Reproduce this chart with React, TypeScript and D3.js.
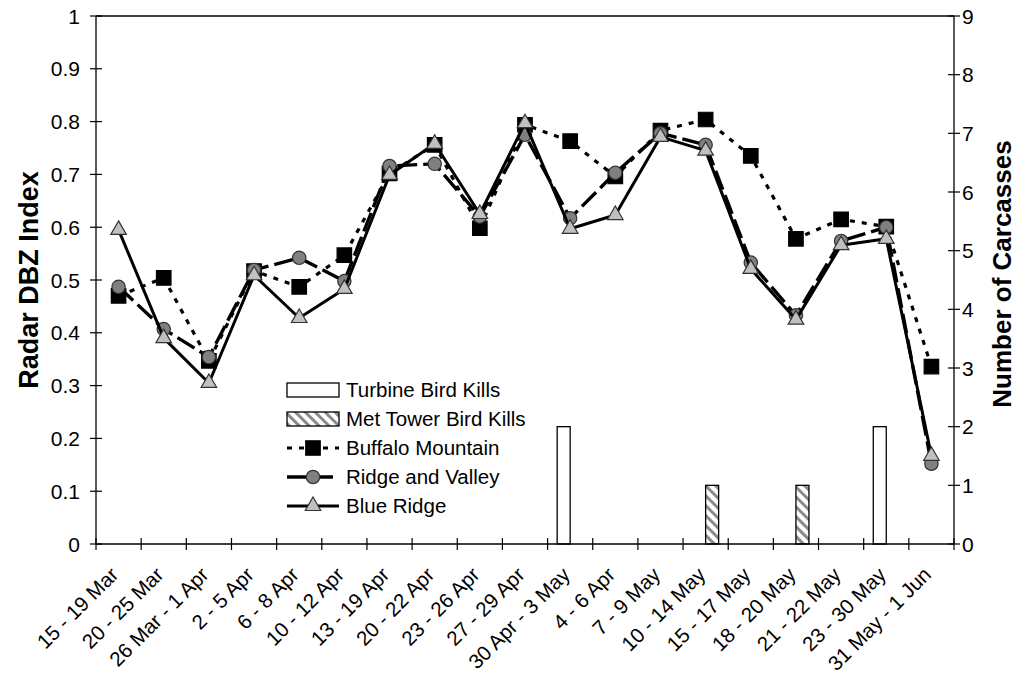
import React from "react";
import * as d3 from "d3";

const categories = [
  "15 - 19 Mar", "20 - 25 Mar", "26 Mar - 1 Apr", "2 - 5 Apr", "6 - 8 Apr",
  "10 - 12 Apr", "13 - 19 Apr", "20 - 22 Apr", "23 - 26 Apr", "27 - 29 Apr",
  "30 Apr - 3 May", "4 - 6 Apr", "7 - 9 May", "10 - 14 May", "15 - 17 May",
  "18 - 20 May", "21 - 22 May", "23 - 30 May", "31 May - 1 Jun",
];

const buffaloMountain = [0.470, 0.504, 0.347, 0.517, 0.487, 0.547, 0.702, 0.756, 0.598, 0.794, 0.763, 0.696, 0.783, 0.804, 0.735, 0.578, 0.615, 0.601, 0.336];
const ridgeAndValley = [0.487, 0.407, 0.354, 0.519, 0.542, 0.498, 0.716, 0.720, 0.620, 0.775, 0.617, 0.703, 0.778, 0.756, 0.533, 0.433, 0.574, 0.600, 0.152];
const blueRidge = [0.595, 0.390, 0.305, 0.509, 0.428, 0.483, 0.699, 0.758, 0.625, 0.797, 0.597, 0.623, 0.771, 0.745, 0.521, 0.425, 0.566, 0.578, 0.167];

const turbineKills = [0, 0, 0, 0, 0, 0, 0, 0, 0, 0, 2, 0, 0, 0, 0, 0, 0, 2, 0];
const metTowerKills = [0, 0, 0, 0, 0, 0, 0, 0, 0, 0, 0, 0, 0, 1, 0, 1, 0, 0, 0];

const leftTicks = [0, 0.1, 0.2, 0.3, 0.4, 0.5, 0.6, 0.7, 0.8, 0.9, 1];
const rightTicks = [0, 1, 2, 3, 4, 5, 6, 7, 8, 9];

const barSeries = ["Turbine Bird Kills", "Met Tower Bird Kills"];
const lineSeries = ["Buffalo Mountain", "Ridge and Valley", "Blue Ridge"];

const W = 1018;
const H = 681;
const L = 96;
const R = 954;
const T = 16;
const B = 544;
const FONT = "'Liberation Sans', Arial, sans-serif";

export default function App() {
  const x = d3.scaleBand<string>().domain(categories).range([L, R]);
  const xSub = d3
    .scaleBand<string>()
    .domain(barSeries)
    .range([0, x.bandwidth()])
    .paddingInner(0)
    .paddingOuter(0.737);
  const yL = d3.scaleLinear().domain([0, 1]).range([B, T]);
  const yR = d3.scaleLinear().domain([0, 9]).range([B, T]);
  const cx = (c: string) => (x(c) as number) + x.bandwidth() / 2;
  const fmt = d3.format(".1~f");

  const line = d3
    .line<number>()
    .x((_, i) => cx(categories[i]))
    .y((d) => yL(d));

  const square = d3.symbol(d3.symbolSquare, 210)();
  const circle = d3.symbol(d3.symbolCircle, 140)();
  const triangle = d3.symbol(d3.symbolTriangle, 105)();

  const styles = [
    { data: buffaloMountain, dash: "5,7", width: 3.2, marker: square, fill: "#000", stroke: "#000" },
    { data: ridgeAndValley, dash: "20,6", width: 3.4, marker: circle, fill: "#808080", stroke: "#333" },
    { data: blueRidge, dash: null as string | null, width: 3, marker: triangle, fill: "#c0c0c0", stroke: "#333" },
  ];

  const barData = [turbineKills, metTowerKills];
  const barFills = ["#fff", "url(#hatch)"];

  const legendX0 = 287;
  const legendX1 = 339;
  const legendTextX = 346;
  const legendRows = [390, 419, 448, 477, 506];

  return (
    <svg
      width={W}
      height={H}
      style={{ position: "absolute", left: 0, top: 0, background: "#fff" }}
      fontFamily={FONT}
    >
      <defs>
        <pattern id="hatch" width="7" height="7" patternUnits="userSpaceOnUse" patternTransform="rotate(-45)">
          <rect width="7" height="7" fill="#fff" />
          <rect width="3" height="7" fill="#8a8a8a" />
        </pattern>
      </defs>
      <rect x={0} y={0} width={W} height={H} fill="#fff" />

      {/* bars */}
      {barData.map((arr, s) =>
        arr.map((v, i) =>
          v > 0 ? (
            <rect
              key={`b${s}-${i}`}
              x={(x(categories[i]) as number) + (xSub(barSeries[s]) as number)}
              y={yR(v)}
              width={xSub.bandwidth()}
              height={B - yR(v)}
              fill={barFills[s]}
              stroke="#000"
              strokeWidth={1.3}
            />
          ) : null
        )
      )}

      {/* frame */}
      <line x1={L} x2={R} y1={T} y2={T} stroke="#000" strokeWidth={1.3} />
      <line x1={L} x2={L} y1={T} y2={B} stroke="#000" strokeWidth={1.3} />
      <line x1={R} x2={R} y1={T} y2={B} stroke="#000" strokeWidth={1.3} />
      <line x1={L} x2={R} y1={B} y2={B} stroke="#000" strokeWidth={1.3} />

      {/* left axis */}
      {leftTicks.map((t) => (
        <g key={`l${t}`}>
          <line x1={L - 6} x2={L + 6} y1={yL(t)} y2={yL(t)} stroke="#000" strokeWidth={1.2} />
          <text x={L - 16} y={yL(t)} dy="0.36em" textAnchor="end" fontSize={21}>
            {fmt(t)}
          </text>
        </g>
      ))}
      {/* right axis */}
      {rightTicks.map((t) => (
        <g key={`r${t}`}>
          <line x1={R - 6} x2={R + 6} y1={yR(t)} y2={yR(t)} stroke="#000" strokeWidth={1.2} />
          <text x={R + 8} y={yR(t)} dy="0.36em" textAnchor="start" fontSize={21}>
            {t}
          </text>
        </g>
      ))}
      {/* x axis ticks */}
      {categories.map((c) => (
        <line
          key={`xt${c}`}
          x1={x(c) as number}
          x2={x(c) as number}
          y1={B - 6}
          y2={B + 6}
          stroke="#000"
          strokeWidth={1.2}
        />
      ))}
      <line x1={R} x2={R} y1={B - 6} y2={B + 6} stroke="#000" strokeWidth={1.2} />
      {categories.map((c) => (
        <text
          key={`xl${c}`}
          transform={`translate(${cx(c) + 1},${B + 32}) rotate(-45)`}
          textAnchor="end"
          fontSize={20.5}
        >
          {c}
        </text>
      ))}

      {/* axis titles */}
      <text
        transform={`translate(38,${(T + B) / 2}) rotate(-90)`}
        textAnchor="middle"
        fontSize={27}
        fontWeight="bold"
      >
        Radar DBZ Index
      </text>
      <text
        transform={`translate(1011,${(T + B) / 2 - 6}) rotate(-90)`}
        textAnchor="middle"
        fontSize={26}
        fontWeight="bold"
      >
        Number of Carcasses
      </text>

      {/* lines + markers */}
      {styles.map((s, k) => (
        <g key={`s${k}`}>
          <path
            d={line(s.data) as string}
            fill="none"
            stroke="#000"
            strokeWidth={s.width}
            strokeDasharray={s.dash ?? undefined}
            strokeLinejoin="round"
          />
          {s.data.map((v, i) => (
            <path
              key={i}
              d={s.marker as string}
              transform={`translate(${cx(categories[i])},${yL(v)})`}
              fill={s.fill}
              stroke={s.stroke}
              strokeWidth={1.2}
            />
          ))}
        </g>
      ))}

      {/* legend */}
      <g fontSize={20.5}>
        {barSeries.map((name, s) => (
          <g key={name}>
            <rect
              x={legendX0}
              y={legendRows[s] - 7}
              width={legendX1 - legendX0}
              height={14}
              fill={barFills[s]}
              stroke="#000"
              strokeWidth={1.3}
            />
            <text x={legendTextX} y={legendRows[s]} dy="0.36em">
              {name}
            </text>
          </g>
        ))}
        {lineSeries.map((name, k) => {
          const s = styles[k];
          const yy = legendRows[k + 2];
          return (
            <g key={name}>
              <line
                x1={legendX0}
                x2={legendX1}
                y1={yy}
                y2={yy}
                stroke="#000"
                strokeWidth={s.width}
                strokeDasharray={s.dash ?? undefined}
              />
              <path
                d={s.marker as string}
                transform={`translate(${(legendX0 + legendX1) / 2},${yy})`}
                fill={s.fill}
                stroke={s.stroke}
                strokeWidth={1.2}
              />
              <text x={legendTextX} y={yy} dy="0.36em">
                {name}
              </text>
            </g>
          );
        })}
      </g>
    </svg>
  );
}
